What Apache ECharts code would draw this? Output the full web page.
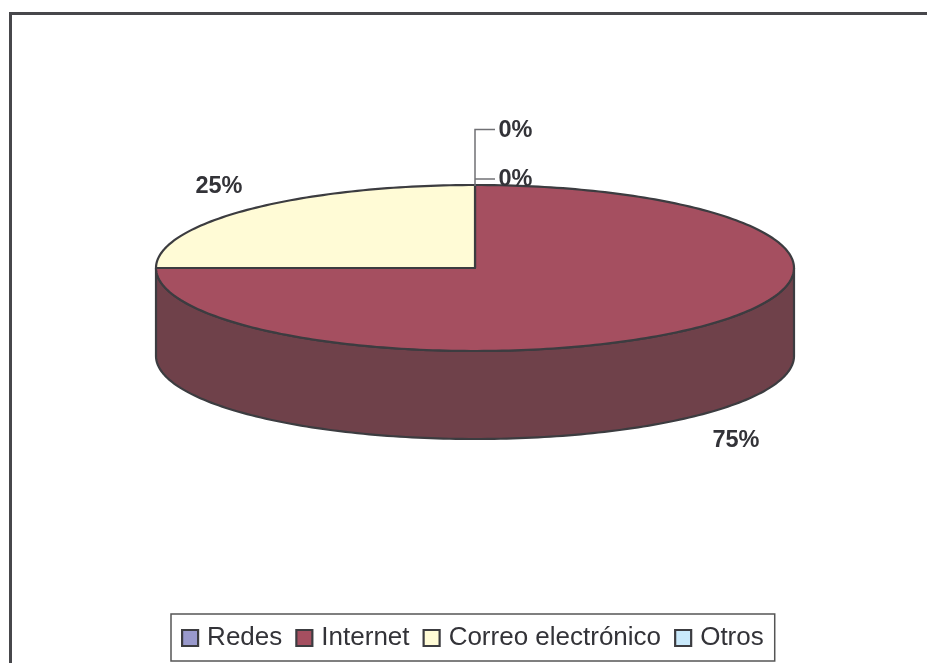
<!DOCTYPE html>
<html><head><meta charset="utf-8">
<style>html,body{margin:0;padding:0;background:#fff}#c{width:927px;height:663px}</style>
<script src="https://cdn.jsdelivr.net/npm/echarts@6/dist/echarts.min.js"></script>
</head><body><div id="c"></div>
<script>
const categories = ['Redes', 'Internet', 'Correo electrónico', 'Otros'];
const values = [0, 75, 25, 0];
const topColors = ['#9999cc', '#a54f60', '#fffbd6', '#c9e9fb'];
const sideColors = ['#6b6b8f', '#6f414a', '#b3b096', '#8da3b0'];

const CX = 475, CY = 268, RX = 319, RY = 83, DEPTH = 88;
const LINE = '#3c3c40';
const labelPos = [[515.5, 179.5], [736, 441], [219, 187], [515.5, 130.5]];
const leaders = [
  [[475, 179], [495, 179]],
  null, null,
  [[475, 186], [475, 129.5], [495, 129.5]]
];
const total = values.reduce((a, b) => a + b, 0);
const pt = (t, dy) => [CX + RX * Math.sin(t), CY + (dy || 0) - RY * Math.cos(t)];
function arc(a, b, dy) {
  const out = [], n = Math.max(2, Math.ceil(Math.abs(b - a) / 0.02));
  for (let i = 0; i <= n; i++) out.push(pt(a + (b - a) * i / n, dy));
  return out;
}
function makeRender(idx) {
  return function () {
    const before = values.slice(0, idx).reduce((a, b) => a + b, 0);
    const a = before / total * 2 * Math.PI, b = (before + values[idx]) / total * 2 * Math.PI;
    const kids = [];
    const style = (fill) => ({ fill, stroke: LINE, lineWidth: 2.2, lineJoin: 'round' });
    if (values[idx] > 0) {
      const s = Math.max(a, Math.PI / 2), e = Math.min(b, 3 * Math.PI / 2);
      if (e > s) {
        kids.push({ type: 'polygon', shape: { points: arc(s, e, 0).concat(arc(s, e, DEPTH).reverse()) }, style: style(sideColors[idx]) });
      }
      kids.push({ type: 'polygon', shape: { points: [[CX, CY]].concat(arc(a, b, 0)) }, style: style(topColors[idx]) });
    }
    if (leaders[idx]) {
      kids.push({ type: 'polyline', shape: { points: leaders[idx] }, style: { fill: null, stroke: '#707074', lineWidth: 1.5 }, z2: 5 });
    }
    kids.push({ type: 'text', x: labelPos[idx][0], y: labelPos[idx][1], z2: 6,
      style: { text: Math.round(values[idx] / total * 100) + '%', fill: '#333338', align: 'center', verticalAlign: 'middle',
        font: 'bold 23.5px "Liberation Sans", Arial, sans-serif' } });
    return { type: 'group', children: kids };
  };
}
const chart = echarts.init(document.getElementById('c'), null, { renderer: 'canvas' });
chart.setOption({
  animation: false,
  backgroundColor: '#fff',
  graphic: [{ type: 'rect', shape: { x: 10.5, y: 13.5, width: 960, height: 700 }, style: { fill: 'none', stroke: '#47474b', lineWidth: 3 }, z: -1 }],
  legend: {
    data: categories, left: 171, top: 614, orient: 'horizontal',
    padding: [11, 11, 10, 10], itemGap: 13, itemWidth: 16, itemHeight: 16, icon: 'rect',
    borderColor: '#555', borderWidth: 1.5, backgroundColor: '#fff',
    itemStyle: { borderColor: '#3c3c40', borderWidth: 2.2 },
    textStyle: { fontFamily: '"Liberation Sans", Arial, sans-serif', fontSize: 26, color: '#333338', padding: [0, 0, 0, 4] },
    selectedMode: false
  },
  series: categories.map((name, i) => ({
    type: 'custom', name, coordinateSystem: 'none', silent: true,
    z: i === 1 ? 2 : 3,
    itemStyle: { color: topColors[i] },
    data: [values[i]],
    renderItem: makeRender(i)
  }))
});
</script></body></html>
